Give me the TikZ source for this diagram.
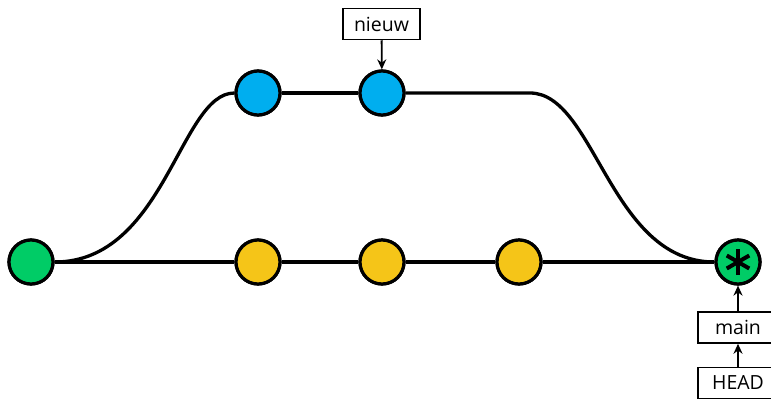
\documentclass[tikz,border=0pt]{standalone}
\usepackage{fontspec}
\setmainfont{Open Sans}
\usetikzlibrary{arrows.meta}
\definecolor{cgreen}{HTML}{00CC66}
\definecolor{cblue}{HTML}{00AEEF}
\definecolor{cyellow}{HTML}{F5C518}
\tikzset{
  commit/.style={circle,draw=black,line width=3.2pt,minimum size=44pt,inner sep=0pt},
  lbl/.style={draw=black,line width=1.5pt,fill=white,minimum height=31pt,inner sep=2pt,font=\fontsize{19.5}{22}\selectfont},
  edge/.style={line width=3.3pt},
  ptr/.style={line width=1.8pt,-{Stealth[length=10pt,width=9pt]}}
}
\begin{document}
\begin{tikzpicture}[x=1pt,y=-1pt]
\useasboundingbox (0,0) rectangle (771,400);
\coordinate (tr) at (530,93);
\node[commit,fill=cgreen] (g1) at (31,262) {};
\node[commit,fill=cyellow] (y1) at (258,262) {};
\node[commit,fill=cyellow] (y2) at (382,262) {};
\node[commit,fill=cyellow] (y3) at (519,262) {};
\node[commit,fill=cblue] (b1) at (258,93) {};
\node[commit,fill=cblue] (b2) at (382,93) {};
\node[commit,fill=cgreen] (g2) at (738,262) {};
\draw[edge] (g1.east) -- (y1) (y1) -- (y2) (y2) -- (y3) (y3) -- (g2.west);
\draw[edge] (g1.east) .. controls (165,262) and (180,93) .. (b1.west);
\draw[edge] (b1) -- (b2);
\draw[edge] (b2.east) -- (tr) .. controls (595,93) and (610,262) .. (g2.west);
% redraw nodes on top
\node[commit,fill=cgreen] at (g1) {};
\node[commit,fill=cyellow] at (y1) {};
\node[commit,fill=cyellow] at (y2) {};
\node[commit,fill=cyellow] at (y3) {};
\node[commit,fill=cblue] at (b1) {};
\node[commit,fill=cblue] at (b2) {};
\node[commit,fill=cgreen] at (g2) {};
% asterisk
\foreach \a in {90,30,-30}
  \draw[line width=4pt] (g2.center) ++(\a:13) -- ++(\a+180:26);
% labels
\node[lbl,minimum width=77pt] (nieuw) at (381.5,24) {nieuw};
\node[lbl,minimum width=80pt] (main) at (738,327.5) {main};
\node[lbl,minimum width=80pt] (head) at (738,383) {HEAD};
\draw[ptr] (nieuw) -- (b2);
\draw[ptr] (main) -- (g2);
\draw[ptr] (head) -- (main);
\end{tikzpicture}
\end{document}
